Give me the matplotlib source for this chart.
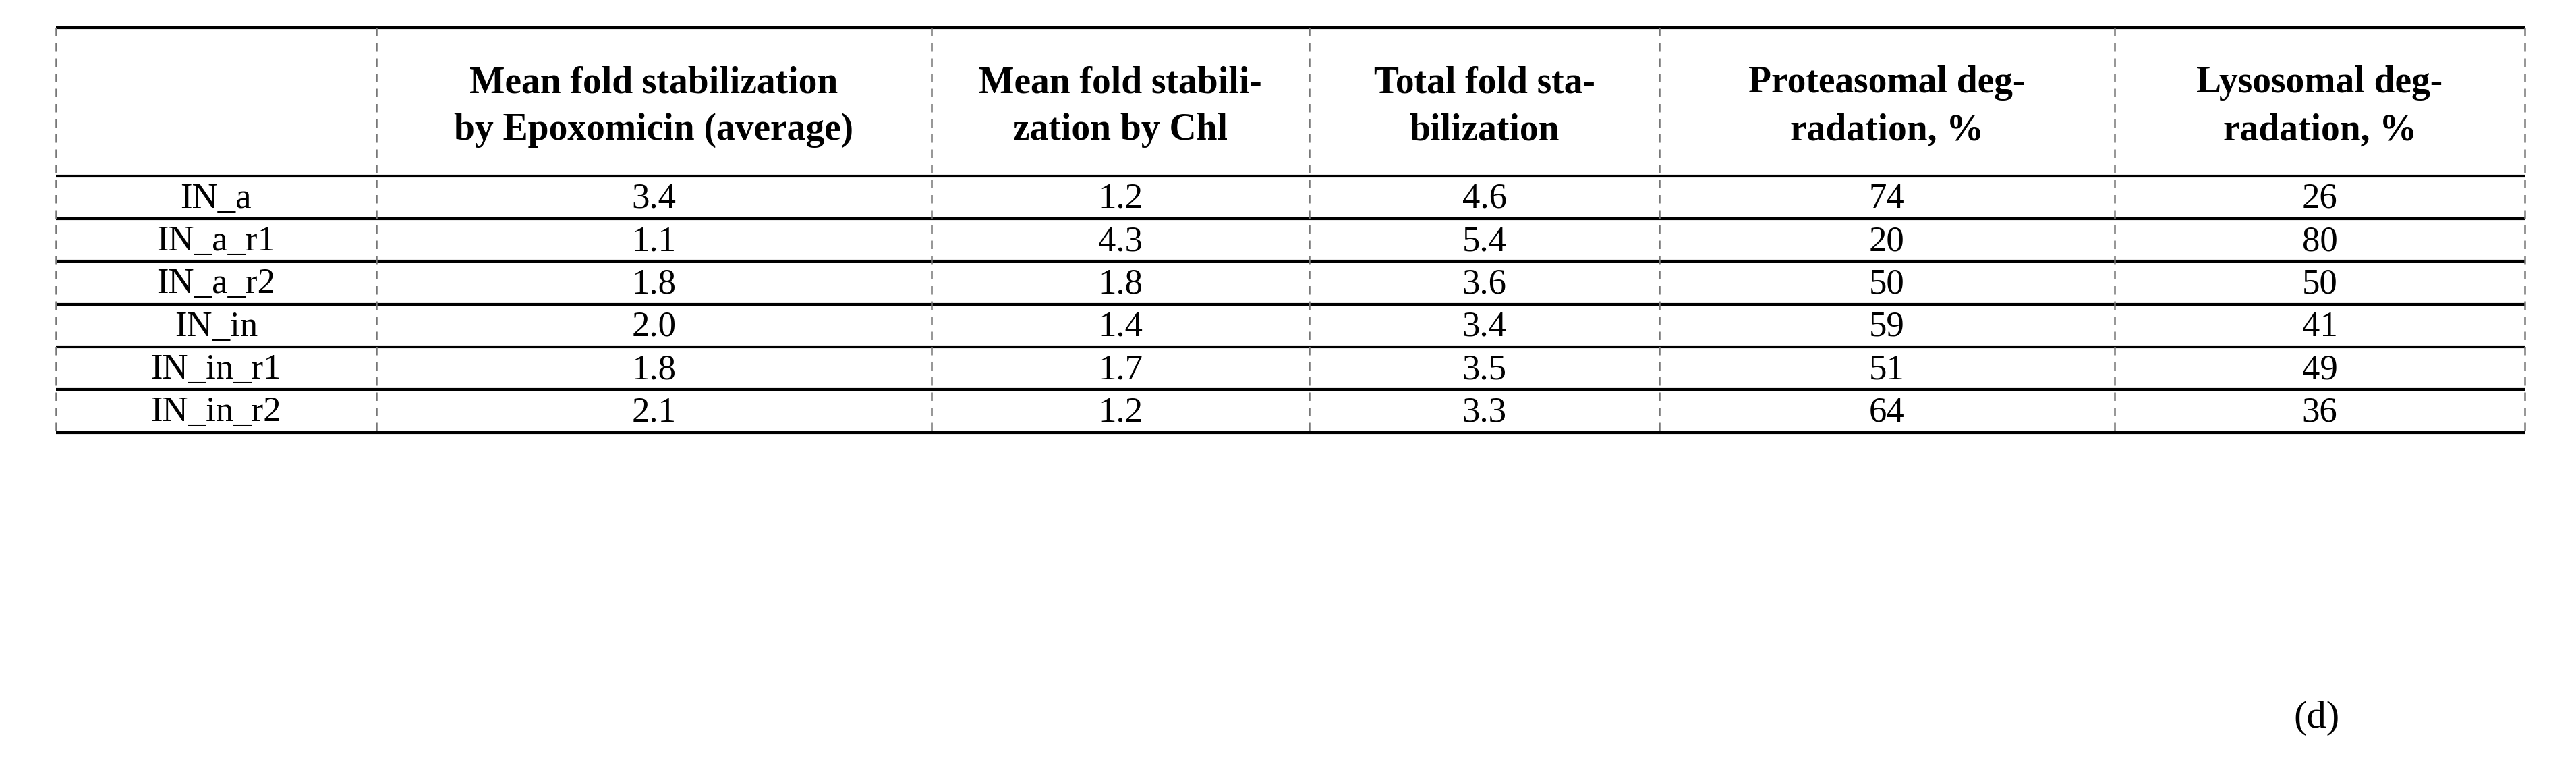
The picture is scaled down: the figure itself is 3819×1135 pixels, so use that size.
import matplotlib
matplotlib.use("Agg")
import matplotlib.pyplot as plt

headers = ["", "Mean fold stabilization\nby Epoxomicin (average)", "Mean fold stabili-\nzation by Chl",
           "Total fold sta-\nbilization", "Proteasomal deg-\nradation, %", "Lysosomal deg-\nradation, %"]
rows = ["IN_a", "IN_a_r1", "IN_a_r2", "IN_in", "IN_in_r1", "IN_in_r2"]
epox = ["3.4", "1.1", "1.8", "2.0", "1.8", "2.1"]
chl = ["1.2", "4.3", "1.8", "1.4", "1.7", "1.2"]
total = ["4.6", "5.4", "3.6", "3.4", "3.5", "3.3"]
prot = ["74", "20", "50", "59", "51", "64"]
lyso = ["26", "80", "50", "41", "49", "36"]

W, H = 1568, 466
fig = plt.figure(figsize=(38.19, 11.35), dpi=100)
ax = fig.add_axes([0, 0, 1, 1])
ax.set_xlim(0, W); ax.set_ylim(H, 0); ax.axis("off")

cols = [34, 229, 567, 797, 1010, 1287, 1537]
top, hb, rh = 17, 107, 26
ys = [top, hb] + [hb + rh * (i + 1) for i in range(len(rows))]
font = ["Liberation Serif", "DejaVu Serif"]
fs = 38

for y in ys:
    ax.plot([cols[0], cols[-1]], [y, y], color="black", lw=3, solid_capstyle="butt")
for x in cols:
    ax.plot([x, x], [top, ys[-1]], color="#777777", lw=1.8, ls=(0, (5, 4)))

for j, h in enumerate(headers):
    ax.text((cols[j] + cols[j + 1]) / 2, (top + hb) / 2 + 3, h, ha="center", va="center",
            fontsize=fs + 2, fontweight="bold", family=font, linespacing=1.45)

data = [rows, epox, chl, total, prot, lyso]
for i in range(len(rows)):
    yc = hb + rh * i + rh / 2 + 1
    for j, col in enumerate(data):
        ax.text((cols[j] + cols[j + 1]) / 2, yc, col[i], ha="center", va="center",
                fontsize=fs, family=font)

ax.text(1410, 437, "(d)", ha="center", va="center", fontsize=42, family=font)
fig.savefig("out.png", dpi=100, facecolor="white")
